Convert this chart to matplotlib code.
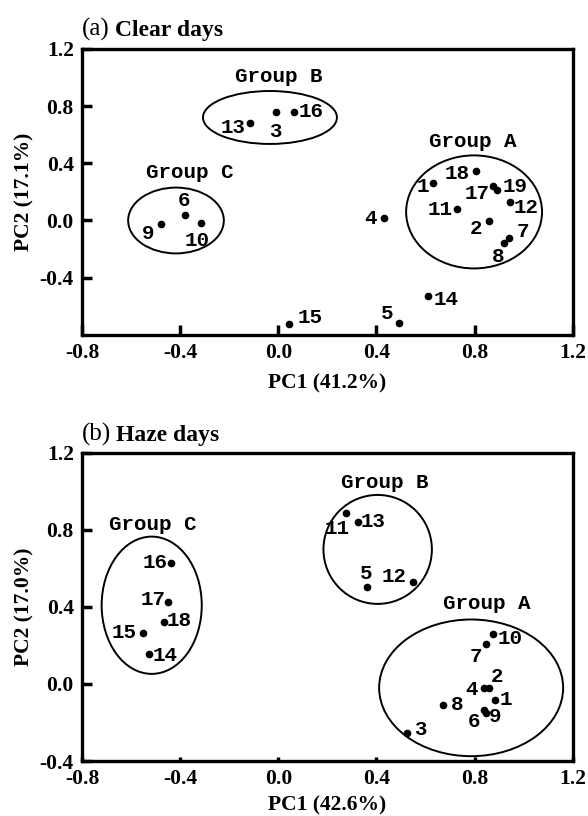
import matplotlib
matplotlib.use("Agg")
import matplotlib.pyplot as plt
from matplotlib.patches import Ellipse

# ---- data: (a) clear days ----
a_ids = ["1", "2", "3", "4", "5", "6", "7", "8", "9", "10",
         "11", "12", "13", "14", "15", "16", "17", "18", "19"]
a_pc1 = [0.63, 0.86, -0.01, 0.43, 0.49, -0.38, 0.94, 0.92, -0.48, -0.315,
         0.73, 0.945, -0.115, 0.61, 0.045, 0.065, 0.875, 0.805, 0.89]
a_pc2 = [0.26, -0.005, 0.755, 0.015, -0.715, 0.04, -0.12, -0.16, -0.025, -0.02,
         0.08, 0.13, 0.68, -0.53, -0.72, 0.76, 0.24, 0.345, 0.215]
a_groups = ["Group A", "Group B", "Group C"]
a_grp_x = [0.798, -0.034, -0.417]
a_grp_y = [0.06, 0.72, 0.0]
a_grp_w = [0.554, 0.546, 0.39]
a_grp_h = [0.79, 0.37, 0.46]

# ---- data: (b) haze days ----
b_ids = ["1", "2", "3", "4", "5", "6", "7", "8", "9", "10",
         "11", "12", "13", "14", "15", "16", "17", "18"]
b_pc1 = [0.885, 0.86, 0.525, 0.84, 0.36, 0.84, 0.847, 0.673, 0.845, 0.877,
         0.276, 0.548, 0.326, -0.527, -0.553, -0.438, -0.448, -0.466]
b_pc2 = [-0.083, -0.022, -0.256, -0.019, 0.502, -0.135, 0.206, -0.109, -0.152, 0.258,
         0.887, 0.531, 0.843, 0.158, 0.265, 0.63, 0.428, 0.32]
b_groups = ["Group A", "Group B", "Group C"]
b_grp_x = [0.786, 0.405, -0.516]
b_grp_y = [-0.02, 0.699, 0.409]
b_grp_w = [0.75, 0.442, 0.408]
b_grp_h = [0.71, 0.566, 0.713]

# label placement (pixel offsets from the dot) and group-title positions
a_off = {"1": (-10, -3), "2": (-13, -7), "3": (0, -19), "4": (-13, 0), "5": (-11, 9),
         "6": (-1, 14), "7": (14, 6), "8": (-6, -13), "9": (-12, -9), "10": (-4, -17),
         "11": (-17, 0), "12": (16, -6), "13": (-17, -4), "14": (18, -3), "15": (21, 6),
         "16": (17, 0), "17": (-16, -7), "18": (-19, -2), "19": (18, 3)}
b_off = {"1": (10, 0), "2": (8, 12), "3": (13, 4), "4": (-13, -2), "5": (0, 14),
         "6": (-10, -12), "7": (-10, -12), "8": (14, 0), "9": (10, -3), "10": (17, -4),
         "11": (-9, -15), "12": (-19, 5), "13": (15, 0), "14": (16, -2), "15": (-19, 0),
         "16": (-16, 0), "17": (-15, 2), "18": (15, 2)}
a_title_xy = [(0.792, 0.551), (0.0, 1.003), (-0.36, 0.333)]
b_title_xy = [(0.85, 0.42), (0.432, 1.046), (-0.513, 0.831)]

SERIF = "Liberation Serif"
MONO = "Liberation Mono"


def draw_panel(ax, ids, xs, ys, offs, groups, gx, gy, gw, gh, title_xy,
               tag, name, xlabel, ylabel, yticks, xtick_len, title_y):
    for cx, cy, w, h in zip(gx, gy, gw, gh):
        ax.add_patch(Ellipse((cx, cy), w, h, fill=False, ec="black", lw=1.4))
    ax.plot(xs, ys, "o", color="black", ms=4.5, zorder=3)
    for i, x, y in zip(ids, xs, ys):
        ax.annotate(i, (x, y), xytext=offs[i], textcoords="offset pixels",
                    ha="center", va="center", fontsize=15,
                    family=MONO, fontweight="bold")
    for g, (tx, ty) in zip(groups, title_xy):
        ax.text(tx, ty, g, ha="center", va="center", fontsize=15,
                family=MONO, fontweight="bold")

    xt = [-0.8, -0.4, 0.0, 0.4, 0.8, 1.2]
    ax.set_xlim(-0.8, 1.2)
    ax.set_xticks(xt)
    ax.set_yticks(yticks)
    ax.set_xticklabels([f"{v:.1f}" for v in xt])
    ax.set_yticklabels([f"{v:.1f}" for v in yticks])
    for lab in ax.get_xticklabels() + ax.get_yticklabels():
        lab.set_family(SERIF)
        lab.set_fontweight("bold")
        lab.set_fontsize(15.5)
    ax.tick_params(axis="y", direction="in", length=7, width=2.5, pad=6)
    ax.tick_params(axis="x", direction="in", length=xtick_len, width=2.5, pad=6)
    for sp in ax.spines.values():
        sp.set_linewidth(2.4)

    ax.set_xlabel(xlabel, family=SERIF, fontweight="bold", fontsize=15.5, va="center")
    ax.set_ylabel(ylabel, family=SERIF, fontweight="bold", fontsize=15.5, va="center")

    t = ax.text(0.0, title_y, tag, transform=ax.transAxes, family=SERIF, fontsize=18,
                ha="left", va="baseline")
    ax.annotate(name, xy=(1, 0), xycoords=t, xytext=(5, 0), textcoords="offset pixels",
                family=SERIF, fontweight="bold", fontsize=17, ha="left", va="bottom")


fig = plt.figure(figsize=(5.88, 8.16), dpi=100)
ax_a = fig.add_axes([0.1395, 0.5895, 0.8345, 0.3507])
ax_b = fig.add_axes([0.1395, 0.0674, 0.8345, 0.3775])

draw_panel(ax_a, a_ids, a_pc1, a_pc2, a_off, a_groups, a_grp_x, a_grp_y, a_grp_w, a_grp_h,
           a_title_xy, "(a)", "Clear days", "PC1 (41.2%)", "PC2 (17.1%)",
           [-0.4, 0.0, 0.4, 0.8, 1.2], 7, 1.045)
ax_a.set_ylim(-0.8, 1.2)
ax_a.xaxis.set_label_coords(0.5, -0.171)
ax_a.yaxis.set_label_coords(-0.118, 0.5)

draw_panel(ax_b, b_ids, b_pc1, b_pc2, b_off, b_groups, b_grp_x, b_grp_y, b_grp_w, b_grp_h,
           b_title_xy, "(b)", "Haze days", "PC1 (42.6%)", "PC2 (17.0%)",
           [-0.4, 0.0, 0.4, 0.8, 1.2], 3, 1.04)
ax_b.set_ylim(-0.4, 1.2)
ax_b.xaxis.set_label_coords(0.5, -0.145)
ax_b.yaxis.set_label_coords(-0.118, 0.5)

fig.savefig("out.png", dpi=100)
